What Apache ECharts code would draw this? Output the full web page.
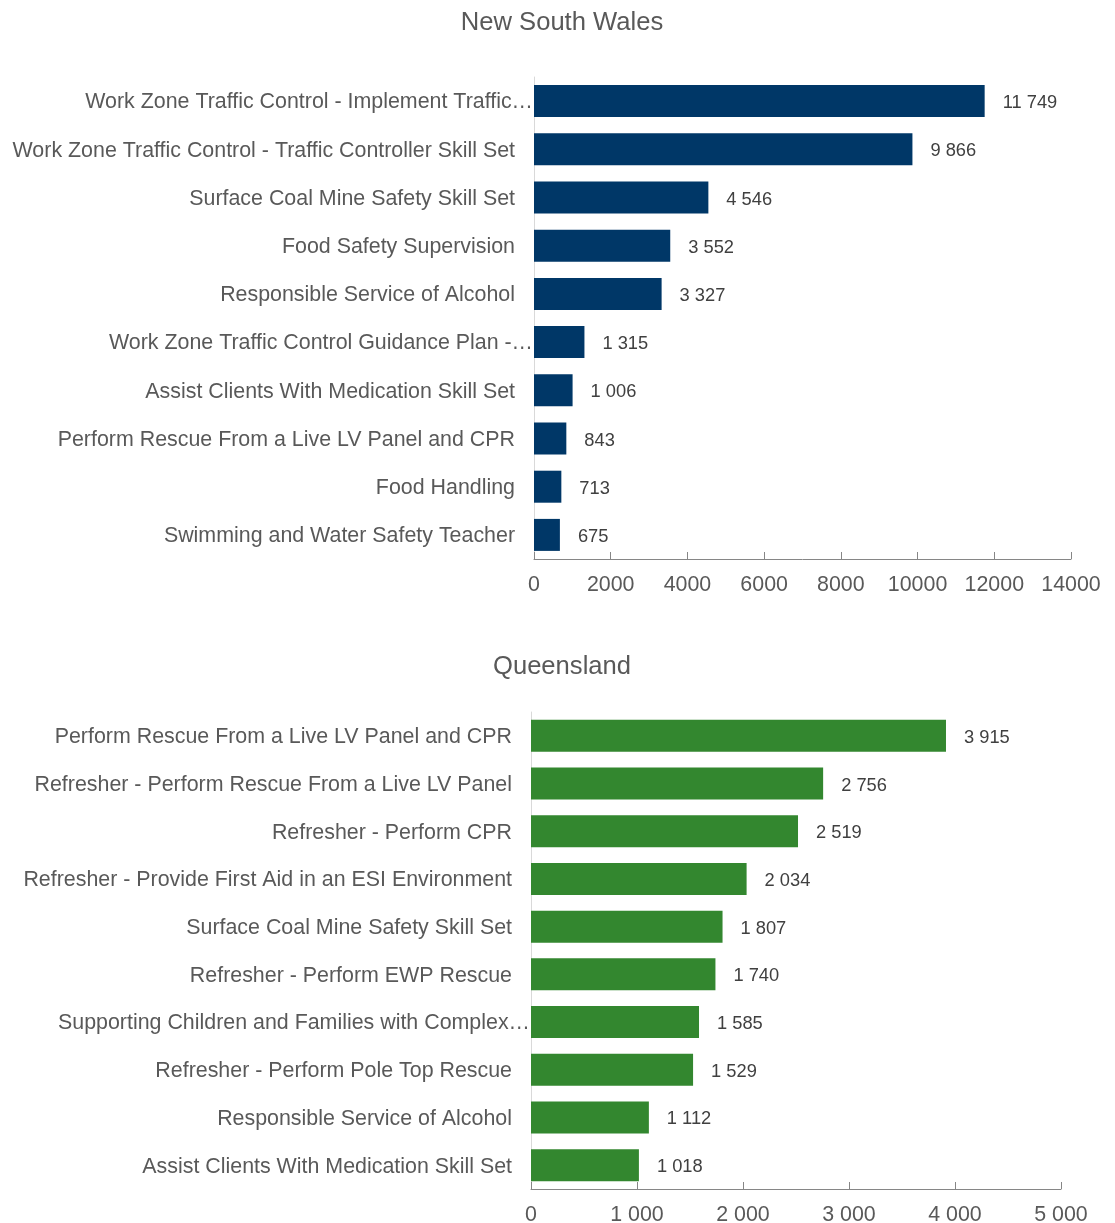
<!DOCTYPE html>
<html>
<head>
<meta charset="utf-8">
<style>
html,body{margin:0;padding:0;background:#fff;}
#chart{width:1115px;height:1223px;}
</style>
<script src="https://cdn.jsdelivr.net/npm/echarts@6/dist/echarts.min.js"></script>
</head>
<body>
<div id="chart"></div>
<script>
const nswTitle = 'New South Wales';
const nswCategories = [
  'Work Zone Traffic Control - Implement Traffic…',
  'Work Zone Traffic Control - Traffic Controller Skill Set',
  'Surface Coal Mine Safety Skill Set',
  'Food Safety Supervision',
  'Responsible Service of Alcohol',
  'Work Zone Traffic Control Guidance Plan -…',
  'Assist Clients With Medication Skill Set',
  'Perform Rescue From a Live LV Panel and CPR',
  'Food Handling',
  'Swimming and Water Safety Teacher'
];
const nswValues = [11749, 9866, 4546, 3552, 3327, 1315, 1006, 843, 713, 675];

const qldTitle = 'Queensland';
const qldCategories = [
  'Perform Rescue From a Live LV Panel and CPR',
  'Refresher - Perform Rescue From a Live LV Panel',
  'Refresher - Perform CPR',
  'Refresher - Provide First Aid in an ESI Environment',
  'Surface Coal Mine Safety Skill Set',
  'Refresher - Perform EWP Rescue',
  'Supporting Children and Families with Complex…',
  'Refresher - Perform Pole Top Rescue',
  'Responsible Service of Alcohol',
  'Assist Clients With Medication Skill Set'
];
const qldValues = [3915, 2756, 2519, 2034, 1807, 1740, 1585, 1529, 1112, 1018];

const FONT = "'Liberation Sans', Arial, sans-serif";
const spaced = v => String(v).replace(/\B(?=(\d{3})+(?!\d))/g, ' ');

function catAxis(gridIndex, cats) {
  return {
    type: 'category', gridIndex: gridIndex, data: cats, inverse: true,
    axisLine: {show: true, lineStyle: {color: '#d9d9d9', width: 1}},
    axisTick: {show: false},
    axisLabel: {
      margin: 1,
      formatter: v => v.endsWith('…') ? '{t|' + v + '}' : '{n|' + v + '}',
      rich: {
        t: {fontSize: 21.4, color: '#595959', fontFamily: FONT, padding: [3, 0, 0, 0]},
        n: {fontSize: 21.4, color: '#595959', fontFamily: FONT, padding: [3, 18, 0, 0]}
      }
    }
  };
}
function valAxis(gridIndex, max, interval, fmt, margin) {
  return {
    type: 'value', gridIndex: gridIndex, min: 0, max: max, interval: interval,
    splitLine: {show: false},
    axisLine: {show: true, lineStyle: {color: '#868686', width: 1}},
    axisTick: {show: true, inside: true, length: 7, lineStyle: {color: '#868686'}},
    axisLabel: {margin: margin, fontSize: 21.4, color: '#595959', fontFamily: FONT, formatter: fmt}
  };
}
function barSeries(idx, values, color) {
  return {
    type: 'bar', xAxisIndex: idx, yAxisIndex: idx, data: values, barWidth: 32,
    itemStyle: {color: color},
    label: {show: true, position: 'right', distance: 18, offset: [0, 2], fontSize: 18.3, color: '#404040',
      fontFamily: FONT, formatter: p => spaced(p.value)},
    silent: true, animation: false
  };
}

const chart = echarts.init(document.getElementById('chart'));
chart.setOption({
  animation: false,
  textStyle: {fontFamily: FONT},
  title: [
    {text: nswTitle, left: 562, top: 10, textAlign: 'center', padding: 0,
     textStyle: {fontSize: 25.6, fontWeight: 'normal', color: '#595959', fontFamily: FONT}},
    {text: qldTitle, left: 562, top: 654, textAlign: 'center', padding: 0,
     textStyle: {fontSize: 25.6, fontWeight: 'normal', color: '#595959', fontFamily: FONT}}
  ],
  grid: [
    {left: 534, right: 44, top: 77, height: 482, outerBoundsMode: 'none', containLabel: false},
    {left: 531, right: 54, top: 712, height: 477, outerBoundsMode: 'none', containLabel: false}
  ],
  xAxis: [
    valAxis(0, 14000, 2000, v => String(v), 16),
    valAxis(1, 5000, 1000, v => spaced(v), 16)
  ],
  yAxis: [catAxis(0, nswCategories), catAxis(1, qldCategories)],
  series: [barSeries(0, nswValues, '#003767'), barSeries(1, qldValues, '#33872f')]
});
</script>
</body>
</html>
